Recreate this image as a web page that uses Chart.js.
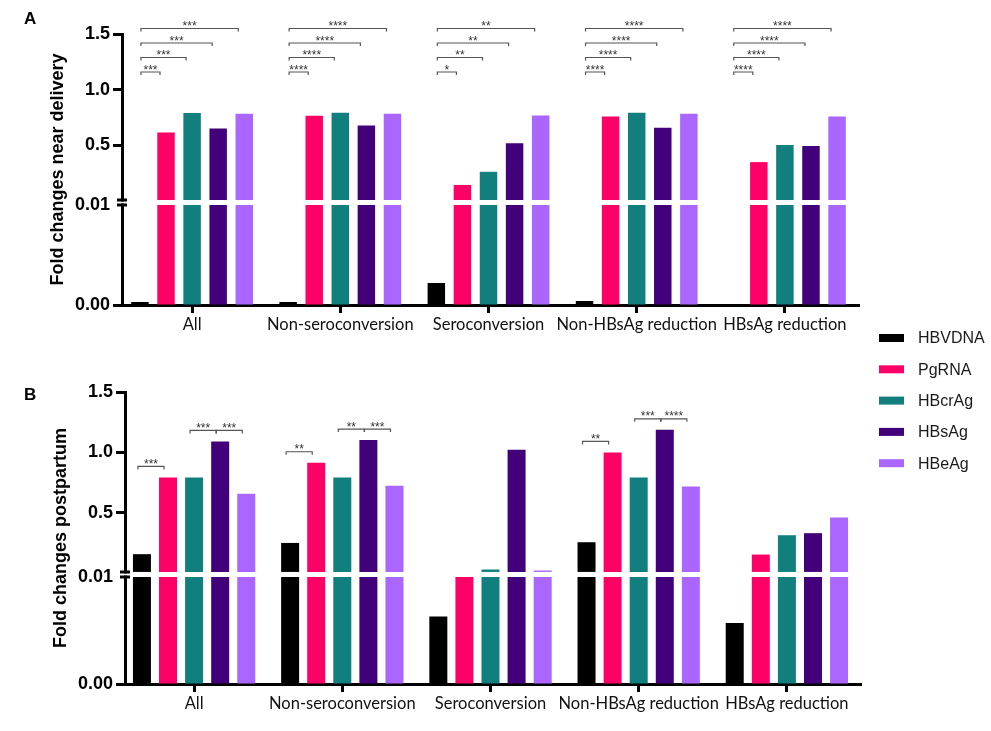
<!DOCTYPE html>
<html>
<head>
<meta charset="utf-8">
<script src="https://cdn.jsdelivr.net/npm/chart.js@4/dist/chart.umd.min.js"></script>
<style>
html,body{margin:0;padding:0;background:#fff;width:991px;height:731px;overflow:hidden}
#wrapA{position:absolute;left:0;top:0;width:991px;height:345px}
#wrapB{position:absolute;left:0;top:325px;width:991px;height:406px}
</style>
</head>
<body>
<div id="wrapA"><canvas id="cA"></canvas></div>
<div id="wrapB"><canvas id="cB"></canvas></div>
<script>
// ---------- data ----------
const categories = ['All', 'Non-seroconversion', 'Seroconversion', 'Non-HBsAg reduction', 'HBsAg reduction'];
const seriesNames = ['HBVDNA', 'PgRNA', 'HBcrAg', 'HBsAg', 'HBeAg'];
const seriesColors = ['#000000', '#FF0066', '#107F7D', '#42007A', '#AA66FF'];

// Panel A: fold changes near delivery
const nearHBVDNA = [0.0003, 0.0003, 0.0022, 0.0004, 0];
const nearPgRNA  = [0.615, 0.766, 0.145, 0.76, 0.35];
const nearHBcrAg = [0.79, 0.793, 0.263, 0.793, 0.504];
const nearHBsAg  = [0.651, 0.678, 0.519, 0.658, 0.495];
const nearHBeAg  = [0.784, 0.784, 0.769, 0.784, 0.76];

// Panel B: fold changes postpartum
const postHBVDNA = [0.157, 0.25, 0.0063, 0.256, 0.0057];
const postPgRNA  = [0.793, 0.914, 0.01, 1.0, 0.154];
const postHBcrAg = [0.793, 0.793, 0.03, 0.793, 0.314];
const postHBsAg  = [1.091, 1.102, 1.022, 1.187, 0.331];
const postHBeAg  = [0.657, 0.723, 0.022, 0.718, 0.461];

// broken axis
const breakValue = 0.01;
const upperTicks = [0.5, 1.0, 1.5];
const lowerTicks = [0, 0.01];

// significance, panel A: HBVDNA vs PgRNA, HBcrAg, HBsAg, HBeAg per group
const sigNear = [
  ['***', '***', '***', '***'],
  ['****', '****', '****', '****'],
  ['*', '**', '**', '**'],
  ['****', '****', '****', '****'],
  ['****', '****', '****', '****']
];
// significance, panel B: [group, fromSeries, toSeries, label]
const sigPost = [
  [0, 0, 1, '***'], [0, 2, 3, '***'], [0, 3, 4, '***'],
  [1, 0, 1, '**'],  [1, 2, 3, '**'],  [1, 3, 4, '***'],
  [3, 0, 1, '**'],  [3, 2, 3, '***'], [3, 3, 4, '****']
];

// ---------- helpers ----------
const TICK_FONT = {family: "'Liberation Sans', Arial, sans-serif", size: 18, weight: 'bold'};
const XLAB_FONT = {family: "Lato, 'Liberation Sans', sans-serif", size: 16.5};

function buildDatasets(valuesList) {
  const ds = [];
  seriesNames.forEach((name, i) => {
    const vals = valuesList[i];
    ds.push({label: name, data: vals.map(v => v > breakValue ? v : null),
      backgroundColor: seriesColors[i], yAxisID: 'yHigh', stack: name, base: breakValue});
    ds.push({label: name, data: vals.map(v => Math.min(v, breakValue)),
      backgroundColor: seriesColors[i], yAxisID: 'yLow', stack: name});
  });
  return ds;
}

function barX(chart, s, j) { return chart.getDatasetMeta(s * 2 + 1).data[j].x; }
function barTop(chart, s, j) {
  const hi = chart.getDatasetMeta(s * 2).data[j];
  const raw = chart.data.datasets[s * 2].data[j];
  if (raw !== null && raw !== undefined) return hi.y;
  return chart.getDatasetMeta(s * 2 + 1).data[j].y;
}

function drawBracket(ctx, x1, x2, y, label) {
  ctx.save();
  ctx.strokeStyle = '#555';
  ctx.lineWidth = 1.2;
  ctx.beginPath();
  ctx.moveTo(x1, y + 3); ctx.lineTo(x1, y); ctx.lineTo(x2, y); ctx.lineTo(x2, y + 3);
  ctx.stroke();
  ctx.fillStyle = '#333';
  ctx.font = "12px 'Liberation Sans', Arial, sans-serif";
  ctx.textAlign = 'center';
  ctx.textBaseline = 'alphabetic';
  ctx.fillText(label, (x1 + x2) / 2, y + 1.5);
  ctx.restore();
}

const decorPlugin = {
  id: 'decor',
  afterLayout(chart, args, opts) {
    // the category axis starts slightly left of the y axis line, as in the original
    const x = chart.scales.x;
    x.left = chart.chartArea.left - opts.xShift;
    x.width = x.right - x.left;
    x.configure();
  },
  afterDraw(chart, args, opts) {
    const ctx = chart.ctx;
    const area = chart.chartArea;
    const yH = chart.scales.yHigh, yL = chart.scales.yLow;
    // axis break
    const ax = area.left - 1;
    const yTop = yH.getPixelForValue(breakValue);
    const yBot = yL.getPixelForValue(breakValue);
    ctx.save();
    ctx.fillStyle = '#fff';
    ctx.fillRect(ax - 3, yTop + 1.5, 7, yBot - yTop - 3);
    ctx.strokeStyle = '#000';
    ctx.lineWidth = 3;
    ctx.beginPath();
    ctx.moveTo(ax - 4, yTop); ctx.lineTo(ax + 6, yTop);
    ctx.moveTo(ax - 4, yBot); ctx.lineTo(ax + 6, yBot);
    ctx.stroke();
    // y title
    ctx.fillStyle = '#000';
    ctx.font = "bold 18px 'Liberation Sans', Arial, sans-serif";
    ctx.textAlign = 'center';
    ctx.textBaseline = 'middle';
    ctx.translate(opts.titleX, (area.top + area.bottom) / 2);
    ctx.rotate(-Math.PI / 2);
    ctx.fillText(opts.title, 0, 0);
    ctx.restore();
    // panel letter
    ctx.save();
    ctx.fillStyle = '#000';
    ctx.font = "bold 17px 'Liberation Sans', Arial, sans-serif";
    ctx.textAlign = 'left';
    ctx.textBaseline = 'alphabetic';
    ctx.fillText(opts.letter, 24, opts.letterY);
    ctx.restore();
    // significance
    if (opts.mode === 'near') {
      sigNear.forEach((row, j) => {
        const c0 = barX(chart, 0, j);
        row.forEach((lab, k) => {
          const ck = barX(chart, k + 1, j);
          drawBracket(ctx, c0 + 1, ck - 6, area.top + 38 - k * 14.5, lab);
        });
      });
    } else {
      sigPost.forEach(([j, a, b, lab]) => {
        const y = Math.min(barTop(chart, a, j), barTop(chart, b, j)) - 11;
        drawBracket(ctx, barX(chart, a, j) - 4, barX(chart, b, j) - 4, y, lab);
      });
      // legend
      ctx.save();
      ctx.font = "16px 'Liberation Sans', Arial, sans-serif";
      ctx.textBaseline = 'middle';
      ctx.textAlign = 'left';
      const seen = [];
      chart.data.datasets.forEach(d => {
        if (seen.indexOf(d.label) !== -1) return;
        seen.push(d.label);
        const i = seen.length - 1;
        const y = 13 + i * 31.3;
        ctx.fillStyle = d.backgroundColor;
        ctx.fillRect(879, y - 4, 25, 8);
        ctx.fillStyle = '#1a1a1a';
        ctx.fillText(d.label, 918, y + 1);
      });
      ctx.restore();
    }
  }
};

function makeChart(canvasId, values, cfg) {
  return new Chart(document.getElementById(canvasId), {
    type: 'bar',
    data: {labels: categories, datasets: buildDatasets(values)},
    plugins: [decorPlugin],
    options: {
      responsive: true,
      maintainAspectRatio: false,
      animation: false,
      devicePixelRatio: 1,
      layout: {padding: {top: cfg.padTop, right: cfg.padRight, left: 0, bottom: 0}},
      datasets: {bar: {barPercentage: cfg.barPct, categoryPercentage: 0.88, borderWidth: 0}},
      plugins: {
        legend: {display: false},
        tooltip: {enabled: false},
        decor: cfg.decor
      },
      scales: {
        x: {
          type: 'category',
          offset: true,
          grid: {display: true, drawOnChartArea: false, offset: false, tickLength: 8, tickWidth: 3, tickColor: '#000'},
          border: {display: true, color: '#000', width: 3},
          ticks: {font: XLAB_FONT, color: '#111', padding: 2, maxRotation: 0, autoSkip: false},
          afterFit: s => { s.height = cfg.xHeight; }
        },
        yLow: {
          type: 'linear', position: 'left', stack: 'v', stackWeight: cfg.wLow,
          stacked: false,
          min: 0, max: breakValue,
          afterBuildTicks: s => { s.ticks = lowerTicks.map(v => ({value: v})); },
          ticks: {font: TICK_FONT, color: '#000', padding: 3, callback: v => Number(v).toFixed(2)},
          grid: {display: true, drawOnChartArea: false, tickLength: 9, tickWidth: 3,
            tickColor: c => (c.tick && c.tick.value === 0) ? '#000' : 'rgba(0,0,0,0)'},
          border: {display: true, color: '#000', width: 3},
          afterFit: s => { s.width = cfg.yWidth; }
        },
        yHigh: {
          type: 'linear', position: 'left', stack: 'v', stackWeight: cfg.wHigh,
          stacked: false,
          min: breakValue - cfg.gapUnits, max: 1.5,
          afterBuildTicks: s => { s.ticks = upperTicks.map(v => ({value: v})); },
          ticks: {font: TICK_FONT, color: '#000', padding: 3, callback: v => Number(v).toFixed(1)},
          grid: {display: true, drawOnChartArea: false, tickLength: 9, tickWidth: 3, tickColor: '#000'},
          border: {display: true, color: '#000', width: 3},
          afterFit: s => { s.width = cfg.yWidth; }
        }
      }
    }
  });
}

makeChart('cA', [nearHBVDNA, nearPgRNA, nearHBcrAg, nearHBsAg, nearHBeAg], {
  padTop: 34, padRight: 132, xHeight: 40, yWidth: 122, barPct: 0.67,
  wHigh: 171, wLow: 100, gapUnits: 0.045,
  decor: {mode: 'near', title: 'Fold changes near delivery', titleX: 58, letter: 'A', letterY: 24, xShift: 4}
});
makeChart('cB', [postHBVDNA, postPgRNA, postHBcrAg, postHBsAg, postHBeAg], {
  padTop: 67, padRight: 130, xHeight: 47, yWidth: 125, barPct: 0.69,
  wHigh: 185, wLow: 107, gapUnits: 0.042,
  decor: {mode: 'post', title: 'Fold changes postpartum', titleX: 61, letter: 'B', letterY: 75, xShift: 5}
});
</script>
</body>
</html>
